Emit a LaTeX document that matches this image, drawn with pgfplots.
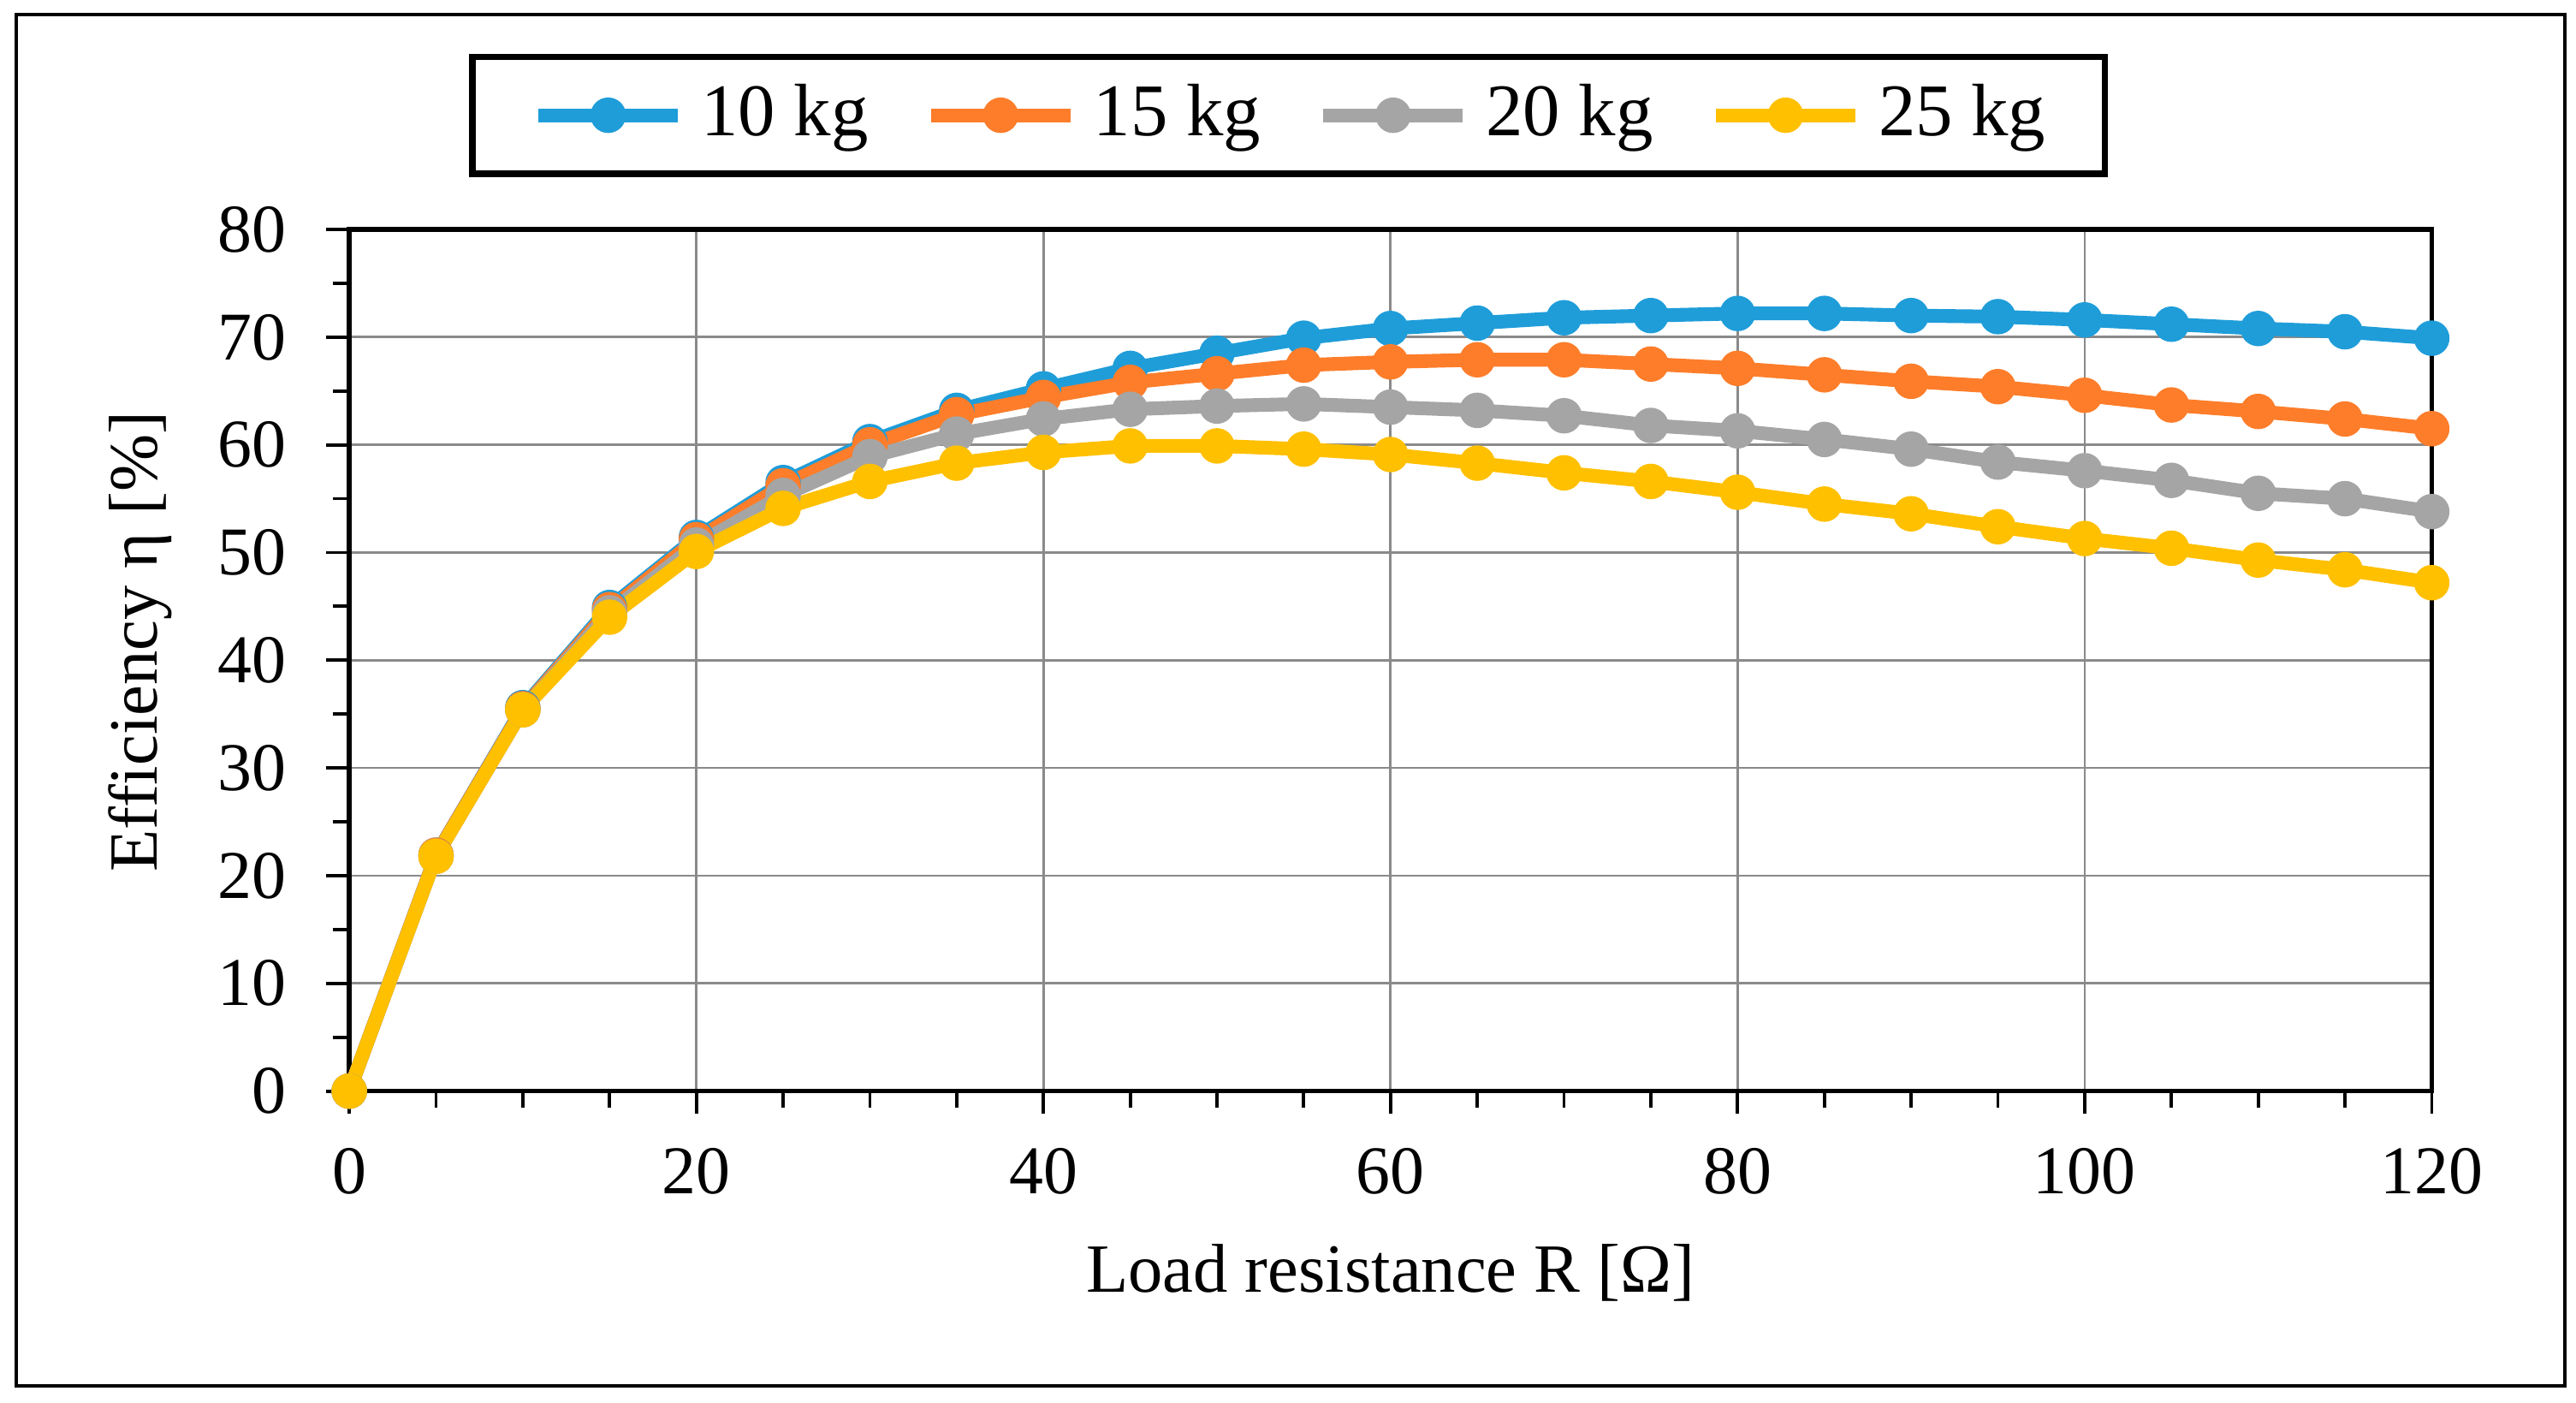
\documentclass[border=0pt]{standalone}
\usepackage{pgfplots}
\usepackage{pgfplotstable}
\pgfplotsset{compat=1.18}
\usepackage{fontspec}
\setmainfont{Liberation Serif}
\definecolor{cblue}{HTML}{1F9DD9}
\definecolor{corange}{HTML}{FD7D2A}
\definecolor{cgray}{HTML}{A5A5A5}
\definecolor{cyellow}{HTML}{FFC000}
\definecolor{cgrid}{HTML}{8A8A8A}

\pgfplotstableread{
R   b    o    g    y
0   0    0    0    0
5   21.9 21.9 21.8 21.8
10  35.6 35.5 35.4 35.4
15  44.9 44.7 44.4 44.0
20  51.4 51.2 50.7 50.1
25  56.5 56.2 55.3 54.1
30  60.3 60.0 58.9 56.6
35  63.2 62.8 61.0 58.3
40  65.2 64.4 62.4 59.3
45  67.1 65.8 63.3 59.9
50  68.5 66.6 63.6 59.9
55  69.9 67.4 63.8 59.6
60  70.8 67.7 63.5 59.1
65  71.3 67.9 63.2 58.3
70  71.8 67.9 62.7 57.4
75  72.0 67.5 61.8 56.6
80  72.2 67.1 61.3 55.6
85  72.2 66.5 60.5 54.5
90  72.0 65.9 59.6 53.6
95  71.9 65.4 58.4 52.4
100 71.6 64.6 57.6 51.3
105 71.2 63.7 56.7 50.4
110 70.8 63.1 55.5 49.3
115 70.5 62.4 55.0 48.4
120 69.9 61.5 53.8 47.2
}\datatable

\begin{document}
\begin{tikzpicture}
\begin{axis}[
  at={(0,0)}, anchor=south west,
  scale only axis, width=316.9pt, height=131.1pt,
  xmin=0, xmax=120, ymin=0, ymax=80,
  xtick={0,20,...,120}, ytick={0,10,...,80},
  minor x tick num=3, minor y tick num=1,
  xtick pos=bottom, ytick pos=left,
  tick align=outside,
  major tick length=3.5pt, minor tick length=2.5pt,
  tick style={black, line width=0.5pt},
  axis line style={black, line width=0.75pt},
  grid=major,
  major grid style={cgrid, line width=0.35pt},
  clip=false,
  /pgf/number format/assume math mode=true,
  ticklabel style={font=\fontsize{10.4}{12}\selectfont},
  xticklabel style={inner sep=0pt, yshift=-5pt},
  yticklabel style={inner sep=0pt, xshift=-5.9pt},
  label style={font=\fontsize{10.5}{12}\selectfont},
  xlabel={Load resistance R [Ω]},
  ylabel={Efficiency η [\%]},
  xlabel style={at={(axis description cs:0.5,-0.2338)}, anchor=base},
  ylabel style={at={(axis description cs:-0.0925,0.5214)}, anchor=base},
  legend columns=4,
  legend style={at={(0.4511,1.1325)}, anchor=center, draw=black, line width=1pt,
    inner xsep=9pt, inner ysep=4.2pt, font=\fontsize{11.3}{13}\selectfont,
    nodes={inner sep=0pt},
    /tikz/every odd column/.append style={column sep=2.5pt},
    /tikz/every even column/.append style={column sep=8.5pt}},
  legend image code/.code={\draw[mark repeat=2,mark phase=2,#1] plot coordinates {(0pt,0pt) (10.6pt,0pt) (21.2pt,0pt)};},
  every axis plot/.append style={line width=2.1pt, mark=*, mark size=2.45pt, mark options={line width=0.5pt}},
]
\addplot[color=cblue] table[x=R,y=b] {\datatable};
\addlegendentry{10 kg}
\addplot[color=corange] table[x=R,y=o] {\datatable};
\addlegendentry{15 kg}
\addplot[color=cgray] table[x=R,y=g] {\datatable};
\addlegendentry{20 kg}
\addplot[color=cyellow] table[x=R,y=y] {\datatable};
\addlegendentry{25 kg}
\end{axis}
\draw[line width=0.55pt] (-50.7pt,-44.9pt) rectangle (337.2pt,163.8pt);
\pgfresetboundingbox
\path (-53.15pt,-47.45pt) rectangle (338.85pt,166pt);
\end{tikzpicture}
\end{document}
